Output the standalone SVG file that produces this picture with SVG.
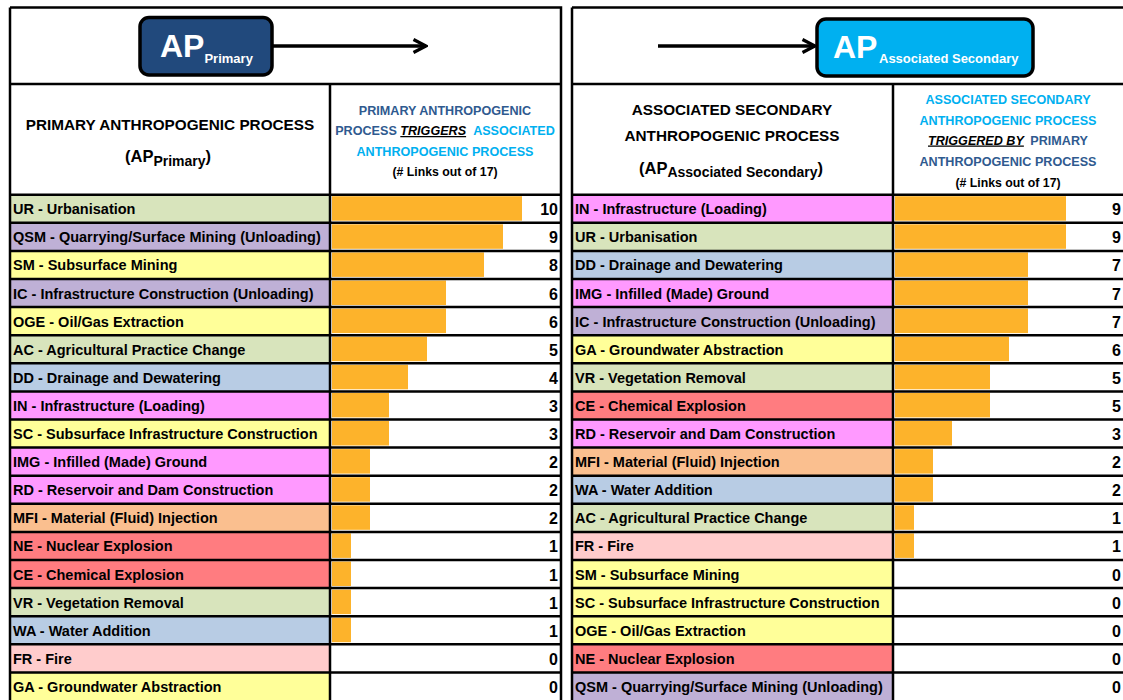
<svg xmlns="http://www.w3.org/2000/svg" width="1123" height="700" viewBox="0 0 1123 700">
<style>
text{font-family:"Liberation Sans",Arial,sans-serif;font-weight:bold}
.lbl{font-size:14.5px;fill:#000}
.num{font-size:16px;fill:#000;text-anchor:end}
.hd{font-size:15.3px;fill:#000;text-anchor:middle}
.hp{font-size:16.5px;fill:#000}
.hs{font-size:12.6px;text-anchor:middle}
.sub{font-size:14px}
.db{fill:#2F5A8F}
.lb{fill:#00B0F0}
.trg{fill:#000;font-style:italic;text-decoration:underline}
.bar{fill:#FDB32B}
.grid{stroke:#000;stroke-width:2.5;fill:none}
.c-gr{fill:#D8E4BC}.c-pu{fill:#BFB0D6}.c-ye{fill:#FFFF99}.c-bl{fill:#B8CCE4}
.c-pk{fill:#FF99FF}.c-or{fill:#FABF8F}.c-rd{fill:#FF7C80}.c-lp{fill:#FFCCCC}
.apbox{stroke:#000;stroke-width:3.5}
.aptxt{fill:#fff;font-size:32px}
.apsub{fill:#fff;font-size:13px}
.conn{stroke:#000;stroke-width:3.5;fill:none}
</style>
<defs>
<marker id="chev" viewBox="0 0 16 16" markerWidth="16" markerHeight="16" markerUnits="userSpaceOnUse" refX="14" refY="8" orient="auto">
<path d="M1.5,1.5 L14,8 L1.5,14.5" fill="none" stroke="#000" stroke-width="3.2" stroke-linejoin="miter"/>
</marker>
</defs>
<rect width="1123" height="700" fill="#fff"/>

<!-- AP boxes -->
<g id="ap-primary">
<rect class="apbox" x="140" y="17.5" width="132" height="57.5" rx="9" fill="#21497C"/>
<text x="160" y="57" class="aptxt">AP<tspan class="apsub" dy="5.5">Primary</tspan></text>
</g>
<g id="ap-secondary">
<rect class="apbox" x="817" y="19" width="216" height="57" rx="9" fill="#00B0F0"/>
<text x="833" y="58" class="aptxt">AP<tspan class="apsub" dy="4.5" x="879">Associated Secondary</tspan></text>
</g>

<!-- connectors -->
<g id="connectors">
<line class="conn" x1="272" y1="46" x2="426" y2="46" marker-end="url(#chev)"/>
<line class="conn" x1="658" y1="46" x2="815" y2="46" marker-end="url(#chev)"/>
</g>

<!-- left header -->
<g id="hdr-left">
<text class="hd" x="170" y="129.5">PRIMARY ANTHROPOGENIC PROCESS</text>
<text class="hp" x="125" y="162">(AP<tspan class="sub" dy="3.5">Primary</tspan><tspan dy="-3.5">)</tspan></text>
<text class="hs db" x="445" y="114.5">PRIMARY ANTHROPOGENIC</text>
<text class="hs" x="445" y="135"><tspan class="db">PROCESS </tspan><tspan class="trg">TRIGGERS</tspan><tspan class="lb" dx="4"> ASSOCIATED</tspan></text>
<text class="hs lb" x="445" y="155.5">ANTHROPOGENIC PROCESS</text>
<text class="hs" x="445" y="176" style="font-size:12.3px;fill:#000">(# Links out of 17)</text>
</g>

<!-- right header -->
<g id="hdr-right">
<text class="hd" x="732" y="115">ASSOCIATED SECONDARY</text>
<text class="hd" x="732" y="141">ANTHROPOGENIC PROCESS</text>
<text class="hp" x="639" y="173.5">(AP<tspan class="sub" dy="3.5">Associated Secondary</tspan><tspan dy="-3.5">)</tspan></text>
<text class="hs lb" x="1008" y="104">ASSOCIATED SECONDARY</text>
<text class="hs lb" x="1008" y="124.5">ANTHROPOGENIC PROCESS</text>
<text class="hs" x="1008" y="144.5"><tspan class="trg">TRIGGERED BY</tspan><tspan class="db" dx="3"> PRIMARY</tspan></text>
<text class="hs db" x="1008" y="165.5">ANTHROPOGENIC PROCESS</text>
<text class="hs" x="1008" y="187" style="font-size:12.3px;fill:#000">(# Links out of 17)</text>
</g>

<!-- left rows -->
<g id="left-rows">
<g id="L-UR" transform="translate(0,194.7)"><rect class="c-gr" x="10" width="320" height="28.1"/><text class="lbl" x="13" y="19.5">UR - Urbanisation</text><rect class="bar" x="332" y="1.5" width="190" height="24.5"/><text class="num" x="558" y="20.5">10</text></g>
<g id="L-QSM" transform="translate(0,222.8)"><rect class="c-pu" x="10" width="320" height="28.1"/><text class="lbl" x="13" y="19.5">QSM - Quarrying/Surface Mining (Unloading)</text><rect class="bar" x="332" y="1.5" width="171" height="24.5"/><text class="num" x="558" y="20.5">9</text></g>
<g id="L-SM" transform="translate(0,250.9)"><rect class="c-ye" x="10" width="320" height="28.1"/><text class="lbl" x="13" y="19.5">SM - Subsurface Mining</text><rect class="bar" x="332" y="1.5" width="152" height="24.5"/><text class="num" x="558" y="20.5">8</text></g>
<g id="L-IC" transform="translate(0,279)"><rect class="c-pu" x="10" width="320" height="28.1"/><text class="lbl" x="13" y="19.5">IC - Infrastructure Construction (Unloading)</text><rect class="bar" x="332" y="1.5" width="114" height="24.5"/><text class="num" x="558" y="20.5">6</text></g>
<g id="L-OGE" transform="translate(0,307.1)"><rect class="c-ye" x="10" width="320" height="28.1"/><text class="lbl" x="13" y="19.5">OGE - Oil/Gas Extraction</text><rect class="bar" x="332" y="1.5" width="114" height="24.5"/><text class="num" x="558" y="20.5">6</text></g>
<g id="L-AC" transform="translate(0,335.2)"><rect class="c-gr" x="10" width="320" height="28.1"/><text class="lbl" x="13" y="19.5">AC - Agricultural Practice Change</text><rect class="bar" x="332" y="1.5" width="95" height="24.5"/><text class="num" x="558" y="20.5">5</text></g>
<g id="L-DD" transform="translate(0,363.3)"><rect class="c-bl" x="10" width="320" height="28.1"/><text class="lbl" x="13" y="19.5">DD - Drainage and Dewatering</text><rect class="bar" x="332" y="1.5" width="76" height="24.5"/><text class="num" x="558" y="20.5">4</text></g>
<g id="L-IN" transform="translate(0,391.4)"><rect class="c-pk" x="10" width="320" height="28.1"/><text class="lbl" x="13" y="19.5">IN - Infrastructure (Loading)</text><rect class="bar" x="332" y="1.5" width="57" height="24.5"/><text class="num" x="558" y="20.5">3</text></g>
<g id="L-SC" transform="translate(0,419.5)"><rect class="c-ye" x="10" width="320" height="28.1"/><text class="lbl" x="13" y="19.5">SC - Subsurface Infrastructure Construction</text><rect class="bar" x="332" y="1.5" width="57" height="24.5"/><text class="num" x="558" y="20.5">3</text></g>
<g id="L-IMG" transform="translate(0,447.6)"><rect class="c-pk" x="10" width="320" height="28.1"/><text class="lbl" x="13" y="19.5">IMG - Infilled (Made) Ground</text><rect class="bar" x="332" y="1.5" width="38" height="24.5"/><text class="num" x="558" y="20.5">2</text></g>
<g id="L-RD" transform="translate(0,475.7)"><rect class="c-pk" x="10" width="320" height="28.1"/><text class="lbl" x="13" y="19.5">RD - Reservoir and Dam Construction</text><rect class="bar" x="332" y="1.5" width="38" height="24.5"/><text class="num" x="558" y="20.5">2</text></g>
<g id="L-MFI" transform="translate(0,503.8)"><rect class="c-or" x="10" width="320" height="28.1"/><text class="lbl" x="13" y="19.5">MFI - Material (Fluid) Injection</text><rect class="bar" x="332" y="1.5" width="38" height="24.5"/><text class="num" x="558" y="20.5">2</text></g>
<g id="L-NE" transform="translate(0,531.9)"><rect class="c-rd" x="10" width="320" height="28.1"/><text class="lbl" x="13" y="19.5">NE - Nuclear Explosion</text><rect class="bar" x="332" y="1.5" width="19" height="24.5"/><text class="num" x="558" y="20.5">1</text></g>
<g id="L-CE" transform="translate(0,560)"><rect class="c-rd" x="10" width="320" height="28.1"/><text class="lbl" x="13" y="19.5">CE - Chemical Explosion</text><rect class="bar" x="332" y="1.5" width="19" height="24.5"/><text class="num" x="558" y="20.5">1</text></g>
<g id="L-VR" transform="translate(0,588.1)"><rect class="c-gr" x="10" width="320" height="28.1"/><text class="lbl" x="13" y="19.5">VR - Vegetation Removal</text><rect class="bar" x="332" y="1.5" width="19" height="24.5"/><text class="num" x="558" y="20.5">1</text></g>
<g id="L-WA" transform="translate(0,616.2)"><rect class="c-bl" x="10" width="320" height="28.1"/><text class="lbl" x="13" y="19.5">WA - Water Addition</text><rect class="bar" x="332" y="1.5" width="19" height="24.5"/><text class="num" x="558" y="20.5">1</text></g>
<g id="L-FR" transform="translate(0,644.3)"><rect class="c-lp" x="10" width="320" height="28.1"/><text class="lbl" x="13" y="19.5">FR - Fire</text><text class="num" x="558" y="20.5">0</text></g>
<g id="L-GA" transform="translate(0,672.4)"><rect class="c-ye" x="10" width="320" height="28.1"/><text class="lbl" x="13" y="19.5">GA - Groundwater Abstraction</text><text class="num" x="558" y="20.5">0</text></g>
</g>

<!-- right rows -->
<g id="right-rows">
<g id="R-IN" transform="translate(0,194.7)"><rect class="c-pk" x="572" width="321" height="28.1"/><text class="lbl" x="575" y="19.5">IN - Infrastructure (Loading)</text><rect class="bar" x="895" y="1.5" width="171" height="24.5"/><text class="num" x="1121" y="20.5">9</text></g>
<g id="R-UR" transform="translate(0,222.8)"><rect class="c-gr" x="572" width="321" height="28.1"/><text class="lbl" x="575" y="19.5">UR - Urbanisation</text><rect class="bar" x="895" y="1.5" width="171" height="24.5"/><text class="num" x="1121" y="20.5">9</text></g>
<g id="R-DD" transform="translate(0,250.9)"><rect class="c-bl" x="572" width="321" height="28.1"/><text class="lbl" x="575" y="19.5">DD - Drainage and Dewatering</text><rect class="bar" x="895" y="1.5" width="133" height="24.5"/><text class="num" x="1121" y="20.5">7</text></g>
<g id="R-IMG" transform="translate(0,279)"><rect class="c-pk" x="572" width="321" height="28.1"/><text class="lbl" x="575" y="19.5">IMG - Infilled (Made) Ground</text><rect class="bar" x="895" y="1.5" width="133" height="24.5"/><text class="num" x="1121" y="20.5">7</text></g>
<g id="R-IC" transform="translate(0,307.1)"><rect class="c-pu" x="572" width="321" height="28.1"/><text class="lbl" x="575" y="19.5">IC - Infrastructure Construction (Unloading)</text><rect class="bar" x="895" y="1.5" width="133" height="24.5"/><text class="num" x="1121" y="20.5">7</text></g>
<g id="R-GA" transform="translate(0,335.2)"><rect class="c-ye" x="572" width="321" height="28.1"/><text class="lbl" x="575" y="19.5">GA - Groundwater Abstraction</text><rect class="bar" x="895" y="1.5" width="114" height="24.5"/><text class="num" x="1121" y="20.5">6</text></g>
<g id="R-VR" transform="translate(0,363.3)"><rect class="c-gr" x="572" width="321" height="28.1"/><text class="lbl" x="575" y="19.5">VR - Vegetation Removal</text><rect class="bar" x="895" y="1.5" width="95" height="24.5"/><text class="num" x="1121" y="20.5">5</text></g>
<g id="R-CE" transform="translate(0,391.4)"><rect class="c-rd" x="572" width="321" height="28.1"/><text class="lbl" x="575" y="19.5">CE - Chemical Explosion</text><rect class="bar" x="895" y="1.5" width="95" height="24.5"/><text class="num" x="1121" y="20.5">5</text></g>
<g id="R-RD" transform="translate(0,419.5)"><rect class="c-pk" x="572" width="321" height="28.1"/><text class="lbl" x="575" y="19.5">RD - Reservoir and Dam Construction</text><rect class="bar" x="895" y="1.5" width="57" height="24.5"/><text class="num" x="1121" y="20.5">3</text></g>
<g id="R-MFI" transform="translate(0,447.6)"><rect class="c-or" x="572" width="321" height="28.1"/><text class="lbl" x="575" y="19.5">MFI - Material (Fluid) Injection</text><rect class="bar" x="895" y="1.5" width="38" height="24.5"/><text class="num" x="1121" y="20.5">2</text></g>
<g id="R-WA" transform="translate(0,475.7)"><rect class="c-bl" x="572" width="321" height="28.1"/><text class="lbl" x="575" y="19.5">WA - Water Addition</text><rect class="bar" x="895" y="1.5" width="38" height="24.5"/><text class="num" x="1121" y="20.5">2</text></g>
<g id="R-AC" transform="translate(0,503.8)"><rect class="c-gr" x="572" width="321" height="28.1"/><text class="lbl" x="575" y="19.5">AC - Agricultural Practice Change</text><rect class="bar" x="895" y="1.5" width="19" height="24.5"/><text class="num" x="1121" y="20.5">1</text></g>
<g id="R-FR" transform="translate(0,531.9)"><rect class="c-lp" x="572" width="321" height="28.1"/><text class="lbl" x="575" y="19.5">FR - Fire</text><rect class="bar" x="895" y="1.5" width="19" height="24.5"/><text class="num" x="1121" y="20.5">1</text></g>
<g id="R-SM" transform="translate(0,560)"><rect class="c-ye" x="572" width="321" height="28.1"/><text class="lbl" x="575" y="19.5">SM - Subsurface Mining</text><text class="num" x="1121" y="20.5">0</text></g>
<g id="R-SC" transform="translate(0,588.1)"><rect class="c-ye" x="572" width="321" height="28.1"/><text class="lbl" x="575" y="19.5">SC - Subsurface Infrastructure Construction</text><text class="num" x="1121" y="20.5">0</text></g>
<g id="R-OGE" transform="translate(0,616.2)"><rect class="c-ye" x="572" width="321" height="28.1"/><text class="lbl" x="575" y="19.5">OGE - Oil/Gas Extraction</text><text class="num" x="1121" y="20.5">0</text></g>
<g id="R-NE" transform="translate(0,644.3)"><rect class="c-rd" x="572" width="321" height="28.1"/><text class="lbl" x="575" y="19.5">NE - Nuclear Explosion</text><text class="num" x="1121" y="20.5">0</text></g>
<g id="R-QSM" transform="translate(0,672.4)"><rect class="c-pu" x="572" width="321" height="28.1"/><text class="lbl" x="575" y="19.5">QSM - Quarrying/Surface Mining (Unloading)</text><text class="num" x="1121" y="20.5">0</text></g>
</g>

<!-- grid -->
<g id="grid" class="grid">
<path d="M10,7.5 H561 V702 M10,7.5 V702 M330,84 V702 M10,84 H561"/>
<path d="M572,7.5 H1125 M572,7.5 V702 M893,84 V702 M572,84 H1125"/>
<path d="M10,194.7 H561 M10,222.8 H561 M10,250.9 H561 M10,279 H561 M10,307.1 H561 M10,335.2 H561 M10,363.3 H561 M10,391.4 H561 M10,419.5 H561 M10,447.6 H561 M10,475.7 H561 M10,503.8 H561 M10,531.9 H561 M10,560 H561 M10,588.1 H561 M10,616.2 H561 M10,644.3 H561 M10,672.4 H561"/>
<path d="M572,194.7 H1125 M572,222.8 H1125 M572,250.9 H1125 M572,279 H1125 M572,307.1 H1125 M572,335.2 H1125 M572,363.3 H1125 M572,391.4 H1125 M572,419.5 H1125 M572,447.6 H1125 M572,475.7 H1125 M572,503.8 H1125 M572,531.9 H1125 M572,560 H1125 M572,588.1 H1125 M572,616.2 H1125 M572,644.3 H1125 M572,672.4 H1125"/>
</g>
</svg>
